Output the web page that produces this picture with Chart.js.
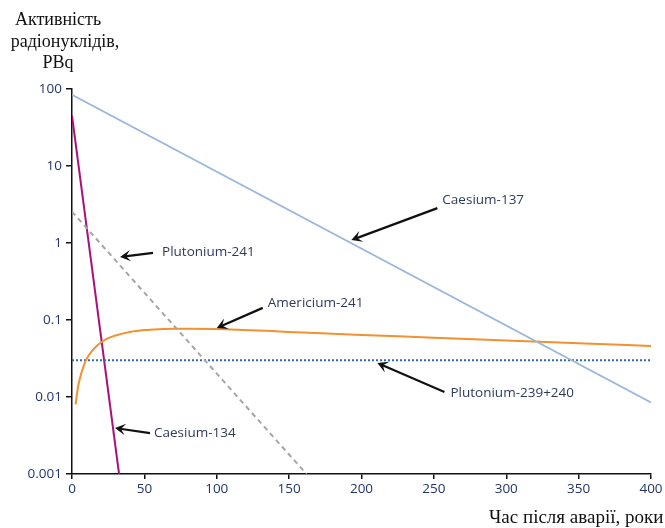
<!DOCTYPE html>
<html>
<head>
<meta charset="utf-8">
<script src="https://cdn.jsdelivr.net/npm/chart.js@4/dist/chart.umd.min.js"></script>
<style>
  body { margin: 0; background: #fff; }
  canvas { display: block; }
</style>
</head>
<body>
<canvas id="chart" width="665" height="528"></canvas>
<script>
// Activity of radionuclides (PBq) against years after the accident
const cs137Years = [0, 400];
const cs137 = [84, 0.0085];

const cs134Years = [0, 32.5];
const cs134 = [45, 0.001];

const pu241Years = [0, 162];
const pu241 = [2.55, 0.001];

const am241Years = [2.5, 4, 6, 8, 10, 15, 20, 25, 30, 40, 50, 60, 70, 80, 100, 150, 200, 250, 300, 350, 400];
const am241 = [0.008, 0.013, 0.019, 0.025, 0.031, 0.042, 0.051, 0.058, 0.063, 0.07, 0.074, 0.076, 0.077, 0.077, 0.0765, 0.07, 0.064, 0.059, 0.054, 0.05, 0.046];

const pu239Years = [0, 400];
const pu239 = [0.03, 0.03];

const xTicks = [0, 50, 100, 150, 200, 250, 300, 350, 400];
const yTicks = [0.001, 0.01, 0.1, 1, 10, 100];
const yTickLabels = ['0.001', '0.01', '0.1', '1', '10', '100'];

const seriesNames = ['Caesium-137', 'Plutonium-241', 'Americium-241', 'Plutonium-239+240', 'Caesium-134'];

const labelColor = '#22356a';
const tickFont = { family: 'Open Sans', size: 13.5 };

function points(xs, ys) {
    return xs.map((x, i) => ({ x: x, y: ys[i] }));
}

// arrow callouts: tip sits on a line (data units), tail and text offset in px
const callouts = [
    { text: seriesNames[0], tip: [193, 1.09], tail: [86, -32], label: [5, -8] },
    { text: seriesNames[1], tip: [33.2, 0.66], tail: [33, -4], label: [9, -1] },
    { text: seriesNames[2], tip: [100, 0.079], tail: [46, -20], label: [5, -5] },
    { text: seriesNames[3], tip: [211, 0.0277], tail: [67, 29], label: [6, 1] },
    { text: seriesNames[4], tip: [29.7, 0.00395], tail: [35, 5], label: [4, 0] }
];

function drawArrow(ctx, x1, y1, x2, y2) {
    const ang = Math.atan2(y2 - y1, x2 - x1);
    const len = 12, spread = 0.5;
    ctx.beginPath();
    ctx.moveTo(x1, y1);
    ctx.lineTo(x2 - Math.cos(ang) * 5, y2 - Math.sin(ang) * 5);
    ctx.stroke();
    ctx.beginPath();
    ctx.moveTo(x2, y2);
    ctx.lineTo(x2 - len * Math.cos(ang - spread), y2 - len * Math.sin(ang - spread));
    ctx.lineTo(x2 - 6 * Math.cos(ang), y2 - 6 * Math.sin(ang));
    ctx.lineTo(x2 - len * Math.cos(ang + spread), y2 - len * Math.sin(ang + spread));
    ctx.closePath();
    ctx.fill();
}

const annotations = {
    id: 'annotations',
    afterDraw(chart) {
        const ctx = chart.ctx;
        const xs = chart.scales.x, ys = chart.scales.y;
        ctx.save();

        // callout arrows and their labels
        ctx.lineWidth = 2.2;
        callouts.forEach(c => {
            const tx = xs.getPixelForValue(c.tip[0]);
            const ty = ys.getPixelForValue(c.tip[1]);
            const sx = tx + c.tail[0], sy = ty + c.tail[1];
            ctx.strokeStyle = '#111';
            ctx.fillStyle = '#111';
            drawArrow(ctx, sx, sy, tx, ty);
            ctx.fillStyle = '#2f3b5c';
            ctx.font = '13.5px "Open Sans"';
            ctx.textAlign = 'left';
            ctx.textBaseline = 'middle';
            ctx.fillText(c.text, sx + c.label[0], sy + c.label[1]);
        });

        // axis titles
        ctx.fillStyle = '#111';
        ctx.font = '18px "Liberation Serif"';
        ctx.textAlign = 'center';
        ctx.textBaseline = 'middle';
        ctx.fillText('Активність', 58, 20);
        ctx.fillText('радіонуклідів,', 65, 42);
        ctx.fillText('PBq', 58, 63);
        ctx.font = '19px "Liberation Serif"';
        ctx.textAlign = 'left';
        ctx.fillText('Час після аварії, роки', 489, 518);
        ctx.restore();
    }
};

const ctx = document.getElementById('chart').getContext('2d');
const chart = new Chart(ctx, {
    type: 'line',
    data: {
        datasets: [
            {
                label: seriesNames[0],
                data: points(cs137Years, cs137),
                borderColor: '#98b6dc',
                borderWidth: 1.6
            },
            {
                label: seriesNames[1],
                data: points(pu241Years, pu241),
                borderColor: '#a6a6a6',
                borderWidth: 2,
                borderDash: [5, 4]
            },
            {
                label: seriesNames[2],
                data: points(am241Years, am241),
                borderColor: '#f0922f',
                borderWidth: 2,
                cubicInterpolationMode: 'monotone'
            },
            {
                label: seriesNames[3],
                data: points(pu239Years, pu239),
                borderColor: '#2f6aa6',
                borderWidth: 2,
                borderDash: [2, 2]
            },
            {
                label: seriesNames[4],
                data: points(cs134Years, cs134),
                borderColor: '#a8127c',
                borderWidth: 2
            }
        ]
    },
    options: {
        responsive: false,
        animation: false,
        elements: { point: { radius: 0 } },
        layout: { padding: { top: 89, right: 14, left: 0, bottom: 0 } },
        plugins: {
            legend: { display: false },
            tooltip: { enabled: false }
        },
        scales: {
            x: {
                type: 'linear',
                min: 0,
                max: 400,
                afterBuildTicks: s => { s.ticks = xTicks.map(v => ({ value: v })); },
                afterFit: s => { s.height = 54; },
                ticks: { color: labelColor, font: tickFont, padding: 2, maxRotation: 0 },
                grid: { drawOnChartArea: false, drawTicks: true, tickLength: 5, color: '#111', lineWidth: 1.5 },
                border: { color: '#111', width: 1.5 }
            },
            y: {
                type: 'logarithmic',
                min: 0.001,
                max: 100,
                afterBuildTicks: s => { s.ticks = yTicks.map(v => ({ value: v })); },
                afterFit: s => { s.width = 72; },
                ticks: {
                    color: labelColor,
                    font: tickFont,
                    padding: 4,
                    callback: v => yTickLabels[yTicks.indexOf(v)]
                },
                grid: { drawOnChartArea: false, drawTicks: true, tickLength: 6, color: '#111', lineWidth: 1.5 },
                border: { color: '#111', width: 1.5 }
            }
        }
    },
    plugins: [annotations]
});
</script>
</body>
</html>
